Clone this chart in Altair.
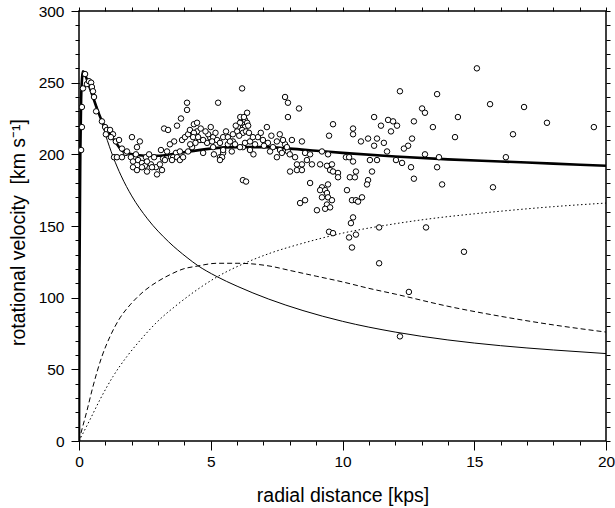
import altair as alt
import pandas as pd

# ---------------- data ----------------
obs_r = [0.08, 0.11, 0.11, 0.15, 0.23, 0.30, 0.38, 0.46, 0.49, 0.53, 0.57, 0.65, 0.87, 0.99, 1.06, 1.18, 1.02, 1.29,
         1.21, 1.40, 1.52, 1.33, 1.44, 1.63, 1.78, 1.82, 2.01, 2.31, 2.20, 1.63, 1.97, 2.16, 2.05, 2.24, 2.39, 2.54,
         2.66, 2.85, 2.50, 2.73, 2.92, 3.07, 3.19, 3.23, 3.38, 3.61, 3.87, 3.72, 3.34, 3.49, 3.68,
         2.05, 2.20, 2.39, 2.58, 2.77, 2.96, 3.15, 3.26, 3.11, 3.45, 3.91, 4.02, 4.14, 4.21, 4.36, 4.48, 4.48, 4.59,
         4.71, 4.86, 4.97, 5.09, 5.35, 5.47, 5.65, 5.84, 6.03, 6.19, 6.30, 6.38, 6.22, 6.22, 6.34, 6.19, 5.28, 4.10,
         4.10, 3.57, 3.72, 3.83, 3.95, 4.14, 4.29, 2.58,
         7.82, 7.93, 6.11, 6.38, 6.03, 6.30, 6.19, 6.00, 6.22, 6.34, 7.13, 7.93, 4.36, 4.33, 4.52, 4.71, 4.90, 5.09,
         5.05, 5.24, 5.35, 5.47, 5.65, 5.84, 5.73, 5.92, 6.11, 6.30, 6.49, 6.68, 6.79, 6.98, 7.17, 7.36, 7.51, 7.63,
         7.82, 7.93, 7.25, 7.51, 6.49, 5.47, 5.43, 5.35, 3.83, 3.53, 8.01,
         4.62, 4.80, 5.00, 5.18, 5.58, 5.95, 6.45, 6.60, 6.90, 7.30, 7.62, 7.02, 6.62, 5.80, 5.12, 4.42, 4.22,
         6.12, 6.26, 6.42, 6.08,
         8.35, 9.64, 9.49, 10.40, 10.40, 11.20, 11.46, 11.73, 10.70, 10.97, 11.31, 11.20, 11.57, 11.69, 8.46, 8.08,
         7.74, 7.89, 7.70, 8.00, 8.20, 8.58, 8.77, 9.22, 9.45, 8.65, 8.46, 8.27, 8.27, 8.46, 8.84, 9.15, 9.41, 9.60,
         9.53, 9.64, 9.83, 9.83, 10.13, 10.25, 10.40, 10.51, 10.28, 10.47, 11.04, 11.31, 11.12, 10.97, 10.93, 8.77,
         9.22, 9.15, 9.34, 9.45, 9.41, 9.22, 9.45, 9.60, 9.41, 9.53, 9.34, 9.03, 8.58, 8.39, 10.17, 10.36, 10.51,
         10.59, 10.74, 10.40, 10.32, 9.49, 9.64, 10.25, 10.51, 10.36, 11.39, 11.39,
         15.10, 12.18, 13.59, 15.60, 13.02, 13.13, 14.38, 11.92, 12.07, 12.71, 11.84, 13.43, 14.27, 12.64, 12.49,
         12.33, 13.13, 13.66, 16.20, 12.03, 12.26, 12.60, 13.59, 12.71, 13.78, 15.71, 13.17,
         16.89, 17.76, 19.54, 16.47, 14.61, 12.52, 12.18]
obs_v = [203, 219, 233, 246, 256, 249, 251, 250, 247, 244, 240, 230, 223, 219, 217, 217, 214, 214,
         212, 209, 210, 198, 198, 204, 201, 202, 212, 209, 205, 198, 198, 200, 195, 196, 194, 198,
         200, 198, 192, 193, 191, 193, 197, 218, 217, 209, 225, 220, 202, 198, 201,
         191, 189, 191, 188, 191, 186, 189, 196, 203, 207, 210, 212, 214, 217, 221, 222, 216, 210,
         201, 208, 212, 205, 198, 201, 207, 209, 217, 222, 224, 229, 205, 182, 181, 246, 236, 236,
         231, 198, 198, 196, 198, 202, 205, 195,
         240, 236, 222, 222, 219, 219, 217, 216, 215, 216, 219, 226, 215, 212, 212, 210, 214, 212,
         209, 210, 208, 212, 212, 214, 209, 207, 205, 208, 209, 207, 212, 210, 208, 205, 209, 203,
         207, 202, 202, 198, 203, 203, 198, 196, 202, 196, 188,
         218, 216, 219, 215, 216, 220, 215, 212, 215, 213, 214, 206, 200, 202, 200, 208, 207,
         226, 226, 220, 213,
         232, 221, 213, 218, 214, 226, 220, 224, 209, 211, 211, 206, 208, 202, 209, 210,
         210, 205, 201, 200, 198, 201, 200, 202, 200, 196, 193, 193, 189, 189, 193, 193, 192, 193,
         189, 188, 187, 184, 198, 198, 195, 188, 184, 184, 196, 196, 188, 182, 179, 180,
         177, 175, 175, 179, 173, 170, 170, 168, 165, 163, 162, 161, 168, 166, 175, 168, 168,
         167, 170, 156, 152, 146, 145, 142, 144, 135, 149, 124,
         260, 244, 242, 235, 232, 229, 226, 223, 220, 223, 216, 219, 212, 211, 206,
         204, 200, 198, 198, 196, 194, 191, 191, 183, 179, 177, 149,
         233, 222, 219, 214, 132, 104, 73]

total_r = [0, 0.02, 0.05, 0.08, 0.12, 0.15, 0.2, 0.34, 0.53, 0.7, 0.9, 1.18, 1.44, 1.67, 2.05, 2.5, 3.0, 3.5,
           4.0, 5.0, 6.0, 7.0, 8.0, 9.0, 10, 12, 14, 16, 18, 20]
total_v = [0, 120, 200, 238, 254, 258, 257, 250, 240, 231, 222, 214, 207, 202, 200, 199, 199, 200,
           201.5, 204, 205, 205, 204, 202.5, 201, 198.5, 196.5, 195, 193.5, 192]

bulge_r = [0, 0.02, 0.05, 0.08, 0.12, 0.15, 0.2, 0.34, 0.53, 0.68, 0.85, 1.0, 1.3, 1.6, 2.0, 2.6, 3.4, 4.1,
           4.5, 5.2, 6.0, 7.2, 8.5, 10, 12, 14, 16, 18, 20]
bulge_v = [0, 120, 200, 238, 254, 258, 257, 250, 240, 233, 223, 214, 198, 185, 171, 155, 139, 128,
           122.5, 115, 108, 99, 91, 83.5, 76, 70.5, 66.5, 63.5, 61]

disk_r = [0, 0.04, 0.3, 0.53, 0.87, 1.18, 1.56, 1.94, 2.43, 2.96, 3.45, 3.95, 4.48, 5.24, 6.0, 7.25, 8, 9,
          10, 11, 12, 14, 16, 18, 20]
disk_v = [0, 3, 21, 38, 59, 73, 86, 95, 104, 111, 116, 120, 122, 124, 124, 122, 119, 115,
          111, 106.5, 102.5, 94, 87, 81, 76]

halo_r = [0, 0.42, 0.8, 1.29, 1.82, 2.31, 2.96, 3.72, 4.48, 5.24, 6.22, 7.25, 8.5, 10, 11.8, 13.3, 15,
          16.4, 18, 20]
halo_v = [0, 15, 29, 45, 59, 70, 83, 95, 105.5, 114.5, 123.5, 131, 138, 145, 151, 155, 158.5,
          161, 163.5, 166]

x_major = [0, 5, 10, 15, 20]
x_minor = list(range(0, 21))
y_major = list(range(0, 301, 50))
y_minor = list(range(0, 301, 10))

FONT = "Liberation Sans"

obs = pd.DataFrame({"r": obs_r, "v": obs_v})
total = pd.DataFrame({"r": total_r, "v": total_v})
bulge = pd.DataFrame({"r": bulge_r, "v": bulge_v})
disk = pd.DataFrame({"r": disk_r, "v": disk_v})
halo = pd.DataFrame({"r": halo_r, "v": halo_v})

xs = alt.Scale(domain=[0, 20], nice=False, zero=False)
ys = alt.Scale(domain=[0, 300], nice=False)

common = dict(grid=False, domain=False, tickColor="black", tickWidth=1, labelColor="black",
              labelFont=FONT, labelFontSize=15.5, titleFont=FONT, titleFontSize=19.5,
              titleFontWeight="normal", titleColor="black")

ax_bottom_major = alt.Axis(orient="bottom", values=x_major, tickSize=9, labelPadding=4, format="d",
                           labelFlush=False, title="radial distance [kps]", titleX=263.5, titleY=54,
                           titleBaseline="middle", titleAlign="center", **common)
ax_bottom_minor = alt.Axis(orient="bottom", values=x_minor, tickSize=4, labels=False, title="", **common)
ax_top = alt.Axis(orient="top", values=x_minor, tickSize=4, labels=False, title="", **common)

ax_left_major = alt.Axis(orient="left", values=y_major, tickSize=8, labelPadding=7, format="d",
                         labelFlush=False, title="rotational velocity\u00a0\u00a0[km s⁻¹]", titleX=-61,
                         titleY=221, titleAngle=-90, titleBaseline="middle", titleAlign="center", **common)
ax_left_minor = alt.Axis(orient="left", values=y_minor, tickSize=4, labels=False, title="", **common)
ax_right = alt.Axis(orient="right", values=y_minor, tickSize=4, labels=False, title="", **common)


def line(df, width, xaxis, yaxis, dash=None):
    kw = dict(color="black", strokeWidth=width, interpolate="monotone", clip=True)
    if dash is not None:
        kw["strokeDash"] = dash
    xenc = alt.X("r:Q", scale=xs, axis=xaxis) if xaxis is not None else alt.X("r:Q", scale=xs, axis=None)
    yenc = alt.Y("v:Q", scale=ys, axis=yaxis) if yaxis is not None else alt.Y("v:Q", scale=ys, axis=None)
    return alt.Chart(df).mark_line(**kw).encode(x=xenc, y=yenc)


l_total = line(total, 2.6, ax_bottom_major, ax_left_major)
l_bulge = line(bulge, 1.0, ax_bottom_minor, ax_left_minor)
l_disk = line(disk, 1.0, ax_top, ax_right, dash=[5, 3])
l_halo = line(halo, 1.0, None, None, dash=[1.5, 2.5])

pts = alt.Chart(obs).mark_point(shape="circle", filled=True, fill="white", stroke="black",
                                strokeWidth=1, size=30, opacity=1, clip=True).encode(
    x=alt.X("r:Q", scale=xs, axis=None),
    y=alt.Y("v:Q", scale=ys, axis=None),
)

chart = (
    alt.layer(l_total, l_bulge, l_disk, l_halo, pts)
    .resolve_axis(x="independent", y="independent")
    .properties(width=527, height=430, autosize=alt.AutoSizeParams(type="none"),
                padding={"left": 79, "top": 11, "right": 9, "bottom": 67}, background="white")
    .configure_view(stroke="black", strokeWidth=1.5)
)

chart.save("out.html", embed_options={"renderer": "svg", "actions": False})
